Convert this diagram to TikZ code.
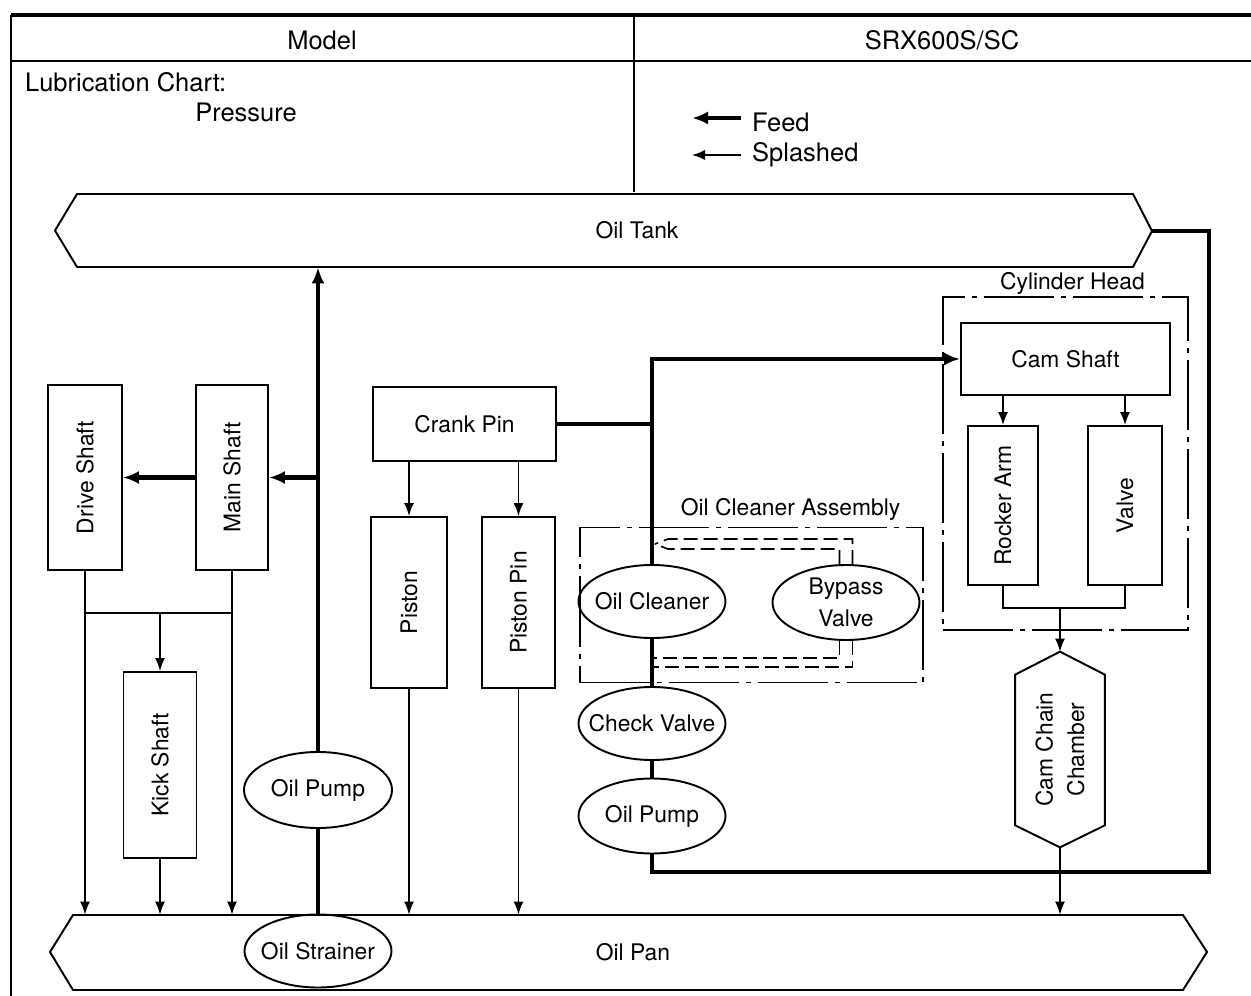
\documentclass[tikz,border=0pt]{standalone}
\usepackage{fontspec}
\setmainfont{TeX Gyre Heros}
\usepackage{graphicx}
\usetikzlibrary{arrows.meta,calc,shapes.geometric}

\begin{document}
\begin{tikzpicture}[x=0.2mm, y=-0.2mm,
    box/.style={draw, line width=1.1pt, inner sep=0pt, font=\fontsize{13}{18}\selectfont},
    oval/.style={draw, ellipse, line width=1.1pt, minimum width=29.4mm, minimum height=14.6mm,
        inner xsep=-3mm, inner ysep=0pt, align=center, font=\fontsize{13}{18}\selectfont},
    framebox/.style={draw, line width=1pt, dash pattern=on 14mm off 1.4mm on 1mm off 1.4mm},
    tag/.style={font=\fontsize{13}{18}\selectfont},
    title/.style={font=\fontsize{14.5}{17}\selectfont},
    feed/.style={line width=2.4pt},
    splash/.style={line width=0.9pt},
    bypassline/.style={line width=0.9pt, dash pattern=on 2.8mm off 1.2mm},
    fa/.style={-{Latex[length=3.2mm, width=2.6mm]}},
    sa/.style={-{Latex[length=2.6mm, width=2mm]}}]

    \path[use as bounding box, fill=white] (0,0) rectangle (1251,996);

    % chart frame
    \draw[line width=2.2pt] (11,15) -- (1251,15);
    \draw[line width=1.1pt] (11,61) -- (1251,61);
    \draw[line width=1.1pt] (11,15) -- (11,996);
    \draw[line width=1.1pt] (634,15) -- (634,192);

    \node[title] (model) at (322,40) {Model};
    \node[title] (srx) at (942,40) {SRX600S/SC};
    \node[title, anchor=west] (chart) at (19,82) {Lubrication Chart:};
    \node[title] (press) at (246,112) {Pressure};
    \node[title, anchor=west] (feedtxt) at (746,122) {Feed};
    \node[title, anchor=west] (splashtxt) at (746,155) {Splashed};
    \coordinate (feedtail) at (741,118);
    \coordinate (feedtip) at (692,118);
    \coordinate (splashtail) at (741,155);
    \coordinate (splashtip) at (692,155);
    \draw[feed, fa] (feedtail) -- (feedtip);
    \draw[splash, sa] (splashtail) -- (splashtip);

    % tank and pan
    \node[tag, minimum height=14.6mm] (tank) at (637,230.5) {Oil Tank};
    \draw[line width=1.1pt] (55,230.5) -- (77,194) -- (1133,194) -- (1152,231) -- (1133,267) -- (77,267) -- cycle;
    \coordinate (tankR) at (1152,231);
    \node[tag, minimum height=15mm] (pan) at (633,952.5) {Oil Pan};
    \draw[line width=1.1pt] (50,952) -- (73,915) -- (1183,915) -- (1207,952) -- (1183,990) -- (73,990) -- cycle;

    % left side
    \node[oval] (strainer) at (318,951) {Oil Strainer};
    \node[oval, minimum width=29.6mm, minimum height=15.2mm] (pumpL) at (318,790) {Oil Pump};
    \node[box, minimum width=14.8mm, minimum height=37mm] (drive) at (85,477.5) {\rotatebox{90}{Drive Shaft}};
    \node[box, minimum width=14.4mm, minimum height=37mm] (main) at (232,477.5) {\rotatebox{90}{Main Shaft}};
    \node[box, minimum width=14.6mm, minimum height=37.2mm] (kick) at (160,765) {\rotatebox{90}{Kick Shaft}};
    \node[box, minimum width=36.6mm, minimum height=14.8mm] (crank) at (464.5,424) {Crank Pin};
    \node[box, minimum width=15.2mm, minimum height=34.2mm] (piston) at (409,602.5) {\rotatebox{90}{Piston}};
    \node[box, minimum width=14.6mm, minimum height=34.2mm] (pin) at (518.5,602.5) {\rotatebox{90}{Piston Pin}};

    % oil cleaner assembly
    \node[oval] (cleaner) at (652,601.5) {Oil Cleaner};
    \node[oval, minimum height=15mm] (bypass) at (846,602.5) {Bypass\\Valve};
    \node[oval] (check) at (652,723.5) {Check Valve};
    \node[oval, minimum height=15mm] (pumpR) at (652,816) {Oil Pump};
    \node[framebox, minimum width=68.6mm, minimum height=31mm,
        label={[tag, xshift=7.8mm]above:Oil Cleaner Assembly}] (assembly) at (751.5,605) {};

    % cylinder head
    \node[box, minimum width=41.8mm, minimum height=14.4mm] (cam) at (1065.5,359) {Cam Shaft};
    \node[box, minimum width=14mm, minimum height=31.8mm] (rocker) at (1003,505.5) {\rotatebox{90}{Rocker Arm}};
    \node[box, minimum width=14.8mm, minimum height=31.8mm] (valve) at (1125,505.5) {\rotatebox{90}{Valve}};
    \node[framebox, minimum width=49mm, minimum height=66.6mm,
        label={[tag, xshift=1.4mm, label distance=-1mm]above:Cylinder Head}] (cylhead) at (1065.5,463.5) {};
    \node[tag, minimum width=17.8mm, minimum height=39mm] (chamber) at (1060,749.5)
        {\rotatebox{90}{\parbox{35mm}{\centering Cam Chain\\Chamber}}};
    \draw[line width=1.1pt] (chamber.north) -- ($(chamber.north east)+(0,23)$) -- ($(chamber.south east)+(0,-22)$)
        -- (chamber.south) -- ($(chamber.south west)+(0,-22)$) -- ($(chamber.north west)+(0,23)$) -- cycle;

    % feed lines
    \draw[feed] (strainer.north) -- (pumpL.south);
    \draw[feed, fa] (pumpL.north) -- (pumpL.north |- tank.south);
    \draw[feed, fa] (pumpL.north |- main.east) -- (main.east);
    \draw[feed, fa] (main.west) -- (drive.east);
    \draw[feed] (crank.east) -- (crank.east -| cleaner.north);
    \draw[feed, fa] (cleaner.north) |- (cam.west);
    \draw[feed] (cleaner.south) -- (check.north);
    \draw[feed] (check.south) -- (pumpR.north);
    \coordinate (ret) at (1209,872);
    \draw[feed] (pumpR.south) |- (ret) |- (tankR);

    % bypass
    \draw[bypassline] ([xshift=1.3mm]bypass.north) |- ($(cleaner.north)+(16,-25)$) -- ($(cleaner.north)+(3,-20)$);
    \draw[bypassline] ([xshift=-1.3mm]bypass.north) |- ($(cleaner.north)+(16,-15)$) -- ($(cleaner.north)+(3,-20)$);
    \draw[bypassline] ([xshift=1.3mm]bypass.south) |- ($(cleaner.south)+(0,28)$);
    \draw[bypassline] ([xshift=-1.3mm]bypass.south) |- ($(cleaner.south)+(0,19)$);

    % splashed lines
    \coordinate (kickin) at (160,613);
    \draw[splash, sa] (drive.south) -- (drive.south |- pan.north);
    \draw[splash, sa] (main.south) -- (main.south |- pan.north);
    \draw[splash] (drive.south |- kickin) -- (main.south |- kickin);
    \draw[splash, sa] (kickin) -- (kick.north);
    \draw[splash, sa] (kick.south) -- (kick.south |- pan.north);
    \draw[splash, sa] (crank.south -| piston.north) -- (piston.north);
    \draw[splash, sa] (crank.south -| pin.north) -- (pin.north);
    \draw[splash, sa] (piston.south) -- (piston.south |- pan.north);
    \draw[splash, sa] (pin.south) -- (pin.south |- pan.north);
    \draw[splash, sa] (cam.south -| rocker.north) -- (rocker.north);
    \draw[splash, sa] (cam.south -| valve.north) -- (valve.north);
    \coordinate (join) at (1060,608);
    \draw[splash] (rocker.south) |- (join) -| (valve.south);
    \draw[splash, sa] (join) -- (chamber.north);
    \draw[splash, sa] (chamber.south) -- (chamber.south |- pan.north);
\end{tikzpicture}
\end{document}
